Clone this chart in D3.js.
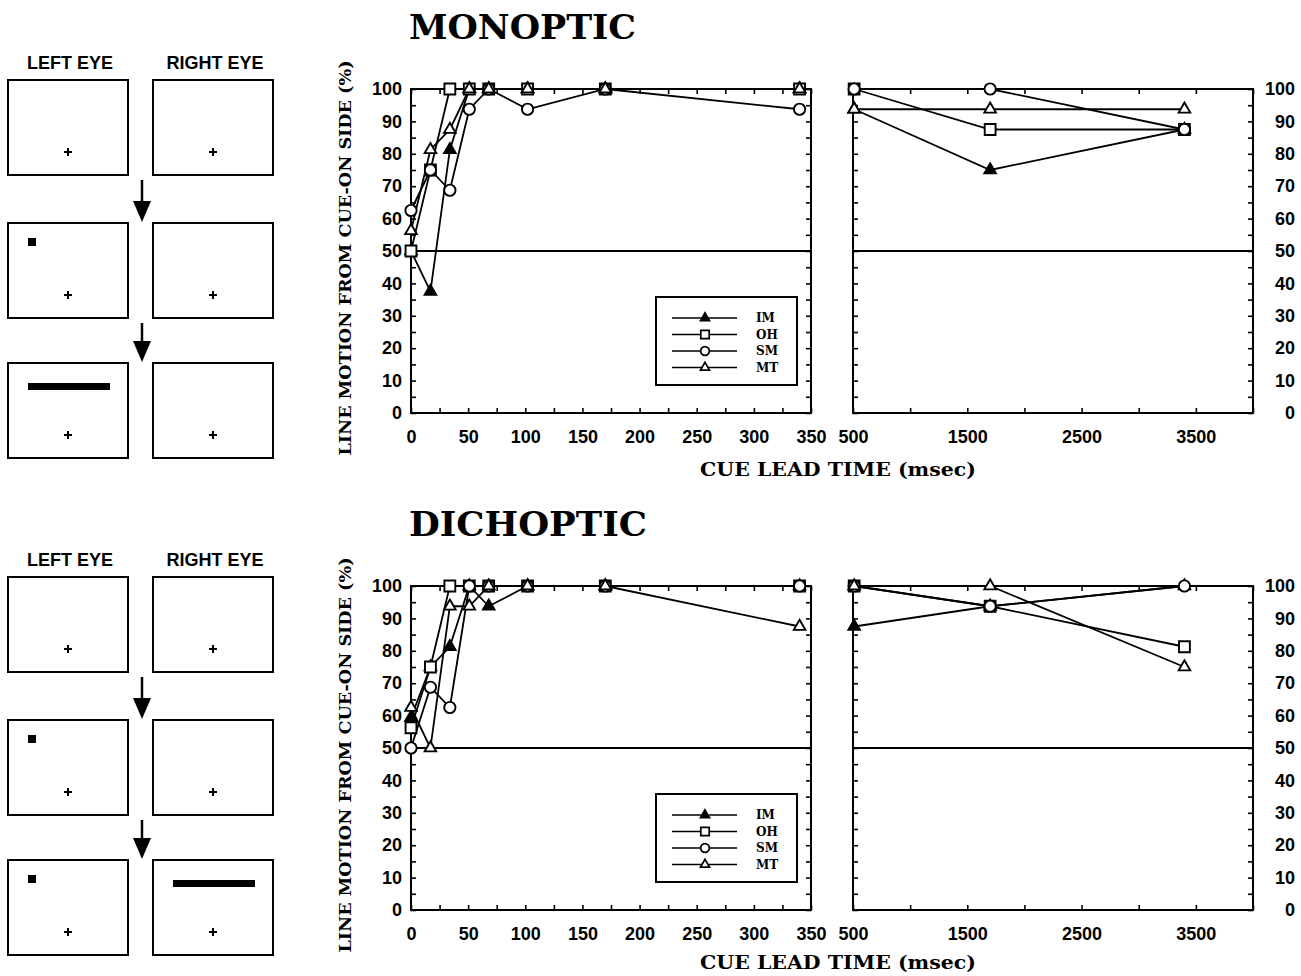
<!DOCTYPE html>
<html>
<head>
<meta charset="utf-8">
<script src="https://cdn.jsdelivr.net/npm/d3@7"></script>
<style>
body { margin: 0; background: #fff; }
</style>
</head>
<body>
<div id="chart"></div>
<script>
// cue lead times (msec)
var shortSOA = [0, 17, 34, 51, 68, 102, 170, 340];
var longSOA = [510, 1700, 3400];
var observers = ["IM", "OH", "SM", "MT"];

// monoptic: % line motion from cue-on side
var monoShortIM = [50, 37.5, 81.25, 100, 100, 100, 100, 100];
var monoShortOH = [50, 75, 100, 100, 100, 100, 100, 100];
var monoShortSM = [62.5, 75, 68.75, 93.75, 100, 93.75, 100, 93.75];
var monoShortMT = [56.25, 81.25, 87.5, 100, 100, 100, 100, 100];
var monoLongIM = [93.75, 75, 87.5];
var monoLongOH = [100, 87.5, 87.5];
var monoLongSM = [100, 100, 87.5];
var monoLongMT = [93.75, 93.75, 93.75];

// dichoptic
var dichShortIM = [59.4, 75, 81.25, 100, 93.75, 100, 100, 100];
var dichShortOH = [56.25, 75, 100, 100, 100, 100, 100, 100];
var dichShortSM = [50, 68.75, 62.5, 100, 100, 100, 100, 100];
var dichShortMT = [62.5, 50, 93.75, 93.75, 100, 100, 100, 87.5];
var dichLongIM = [87.5, 93.75, 100];
var dichLongOH = [100, 93.75, 81.25];
var dichLongSM = [100, 93.75, 100];
var dichLongMT = [100, 100, 75];

// axis ticks / labels
var shortTicks = d3.range(0, 351, 25);
var shortLabels = [0, 50, 100, 150, 200, 250, 300, 350];
var longTicks = d3.range(500, 4001, 500);
var longLabels = [500, 1500, 2500, 3500];
var yTicks = d3.range(0, 101, 5);

// stimulus frames (what each eye sees in the 3 frames)
var monoLeftEye = ["fix", "cue", "line"];
var monoRightEye = ["fix", "fix", "fix"];
var dichLeftEye = ["fix", "cue", "cue"];
var dichRightEye = ["fix", "fix", "line"];

var width = 1301, height = 976;
var svg = d3.select("#chart").append("svg")
    .attr("width", width)
    .attr("height", height);

var xShort = d3.scaleLinear().domain([0, 350]).range([411, 811]);
var xLong = d3.scaleLinear().domain([500, 4000]).range([853, 1253]);
var y = d3.scaleLinear().domain([0, 100]).range([413, 89]);

var serif = "'DejaVu Serif', 'Liberation Serif', serif";
var sans = "'Liberation Sans', Arial, sans-serif";

var conditions = [
  {title: "MONOPTIC", dy: 0, xlabY: 476,
   shortData: [monoShortIM, monoShortOH, monoShortSM, monoShortMT],
   longData: [monoLongIM, monoLongOH, monoLongSM, monoLongMT],
   leftEye: monoLeftEye, rightEye: monoRightEye},
  {title: "DICHOPTIC", dy: 497, xlabY: 472,
   shortData: [dichShortIM, dichShortOH, dichShortSM, dichShortMT],
   longData: [dichLongIM, dichLongOH, dichLongSM, dichLongMT],
   leftEye: dichLeftEye, rightEye: dichRightEye}
];

// marker for each observer
function markerPath(name, small) {
  var k = small ? 0.6 : 1;
  if (name == "OH") return d3.symbol(d3.symbolSquare, 118 * k)();
  if (name == "SM") return d3.symbol(d3.symbolCircle, 100 * k)();
  return d3.symbol(d3.symbolTriangle, 58 * k)();
}
function markerFill(name) { return name == "IM" ? "#000" : "#fff"; }

function yFmt(d) { return d % 10 === 0 ? d : ""; }
function noFmt() { return ""; }

function styleAxis(sel) {
  sel.select(".domain").remove();
  sel.selectAll(".tick line").attr("stroke", "#000").attr("stroke-width", 1.6);
  sel.selectAll("text")
    .attr("font-family", sans)
    .attr("font-weight", "bold")
    .attr("font-size", 18)
    .attr("fill", "#000");
}

function drawPanel(g, x, ticks, labels, leftLabels, rightLabels) {
  var x0 = x.range()[0], x1 = x.range()[1];

  g.append("g").attr("transform", "translate(0," + y(0) + ")")
    .call(d3.axisBottom(x).tickValues(ticks).tickSize(-5).tickPadding(17)
      .tickFormat(function(d) { return labels.indexOf(d) >= 0 ? d : ""; }))
    .call(styleAxis);
  g.append("g").attr("transform", "translate(0," + y(100) + ")")
    .call(d3.axisTop(x).tickValues(ticks).tickSize(-5).tickFormat(noFmt))
    .call(styleAxis);
  g.append("g").attr("transform", "translate(" + x0 + ",0)")
    .call(d3.axisLeft(y).tickValues(yTicks).tickSize(-5).tickPadding(9)
      .tickFormat(leftLabels ? yFmt : noFmt))
    .call(styleAxis);
  var ra = g.append("g").attr("transform", "translate(" + x1 + ",0)")
    .call(d3.axisRight(y).tickValues(yTicks).tickSize(-5)
      .tickFormat(rightLabels ? yFmt : noFmt))
    .call(styleAxis);
  ra.selectAll("text").attr("x", 42).attr("text-anchor", "end");

  // frame
  g.append("rect")
    .attr("x", x0).attr("y", y(100))
    .attr("width", x1 - x0).attr("height", y(0) - y(100))
    .attr("fill", "none").attr("stroke", "#000").attr("stroke-width", 2);

  // chance line
  g.append("line")
    .attr("x1", x0).attr("x2", x1)
    .attr("y1", y(50)).attr("y2", y(50))
    .attr("stroke", "#000").attr("stroke-width", 2);
}

function drawSeries(g, x, soa, data) {
  var line = d3.line().x(function(d) { return x(d[0]); }).y(function(d) { return y(d[1]); });
  var series = observers.map(function(name, i) {
    return {name: name, pts: soa.map(function(s, j) { return [s, data[i][j]]; })};
  });
  g.append("g").selectAll("path")
    .data(series)
    .enter().append("path")
      .attr("d", function(d) { return line(d.pts); })
      .attr("fill", "none")
      .attr("stroke", "#000")
      .attr("stroke-width", 1.8);
  series.forEach(function(s) {
    g.append("g").selectAll("path")
      .data(s.pts)
      .enter().append("path")
        .attr("transform", function(d) { return "translate(" + x(d[0]) + "," + y(d[1]) + ")"; })
        .attr("d", markerPath(s.name))
        .attr("fill", markerFill(s.name))
        .attr("stroke", "#000")
        .attr("stroke-width", 1.9);
  });
}

function drawLegend(g) {
  var lg = g.append("g").attr("transform", "translate(656,297)");
  lg.append("rect").attr("width", 141).attr("height", 88)
    .attr("fill", "#fff").attr("stroke", "#000").attr("stroke-width", 2);
  var rows = lg.selectAll(".row").data(observers).enter().append("g")
    .attr("class", "row")
    .attr("transform", function(d, i) { return "translate(0," + (21 + i * 16.5) + ")"; });
  rows.append("line").attr("x1", 16).attr("x2", 81)
    .attr("stroke", "#000").attr("stroke-width", 1.7);
  rows.append("path")
    .attr("transform", "translate(49,0)")
    .attr("d", function(d) { return markerPath(d, true); })
    .attr("fill", markerFill)
    .attr("stroke", "#000").attr("stroke-width", 1.7);
  rows.append("text")
    .attr("x", 100).attr("dy", "0.35em")
    .attr("font-family", serif).attr("font-weight", "bold").attr("font-size", 12)
    .text(function(d) { return d; });
}

function drawStimuli(g, leftEye, rightEye) {
  var colX = [8, 153], rowY = [80, 223, 363], bw = 120, bh = 95;
  g.selectAll(".hdr").data(["LEFT EYE", "RIGHT EYE"]).enter().append("text")
    .attr("x", function(d, i) { return colX[i] + bw / 2 + 2; })
    .attr("y", 69)
    .attr("text-anchor", "middle")
    .attr("font-family", sans).attr("font-weight", "bold").attr("font-size", 18)
    .text(function(d) { return d; });
  [leftEye, rightEye].forEach(function(eye, c) {
    eye.forEach(function(kind, r) {
      var bx = colX[c], by = rowY[r];
      g.append("rect").attr("x", bx).attr("y", by).attr("width", bw).attr("height", bh)
        .attr("fill", "#fff").attr("stroke", "#000").attr("stroke-width", 2);
      // fixation cross
      var cx = bx + 60, cy = by + 72;
      g.append("path").attr("d", "M" + (cx - 4) + "," + cy + "H" + (cx + 4) + "M" + cx + "," + (cy - 4) + "V" + (cy + 4))
        .attr("stroke", "#000").attr("stroke-width", 2);
      if (kind == "cue") {
        g.append("rect").attr("x", bx + 20).attr("y", by + 15).attr("width", 8).attr("height", 8).attr("fill", "#000");
      } else if (kind == "line") {
        g.append("rect").attr("x", bx + 20).attr("y", by + 20).attr("width", 82).attr("height", 7).attr("fill", "#000");
      }
    });
  });
  // arrows between frames
  [0, 1].forEach(function(r) {
    var top = rowY[r] + bh + 5, tip = rowY[r + 1] - 1;
    g.append("line").attr("x1", 142).attr("x2", 142).attr("y1", top).attr("y2", tip - 18)
      .attr("stroke", "#000").attr("stroke-width", 2.5);
    g.append("path").attr("d", "M133," + (tip - 21) + "L151," + (tip - 21) + "L142," + tip + "Z")
      .attr("fill", "#000");
  });
}

conditions.forEach(function(c) {
  var g = svg.append("g").attr("transform", "translate(0," + c.dy + ")");

  g.append("text")
    .attr("x", 409).attr("y", 39)
    .attr("font-family", serif).attr("font-weight", "bold").attr("font-size", 34)
    .attr("textLength", c.title == "MONOPTIC" ? 227 : 238)
    .attr("lengthAdjust", "spacingAndGlyphs")
    .text(c.title);

  drawStimuli(g, c.leftEye, c.rightEye);

  drawPanel(g, xShort, shortTicks, shortLabels, true, false);
  drawPanel(g, xLong, longTicks, longLabels, false, true);

  drawSeries(g, xShort, shortSOA, c.shortData);
  drawSeries(g, xLong, longSOA, c.longData);
  drawLegend(g);

  g.append("text")
    .attr("transform", "translate(351,258) rotate(-90)")
    .attr("text-anchor", "middle")
    .attr("font-family", serif).attr("font-weight", "bold").attr("font-size", 16)
    .attr("textLength", 395).attr("lengthAdjust", "spacingAndGlyphs")
    .text("LINE MOTION FROM CUE-ON SIDE (%)");

  g.append("text")
    .attr("x", 838).attr("y", c.xlabY)
    .attr("text-anchor", "middle")
    .attr("font-family", serif).attr("font-weight", "bold").attr("font-size", 18)
    .attr("textLength", 276).attr("lengthAdjust", "spacingAndGlyphs")
    .text("CUE LEAD TIME (msec)");
});
</script>
</body>
</html>
